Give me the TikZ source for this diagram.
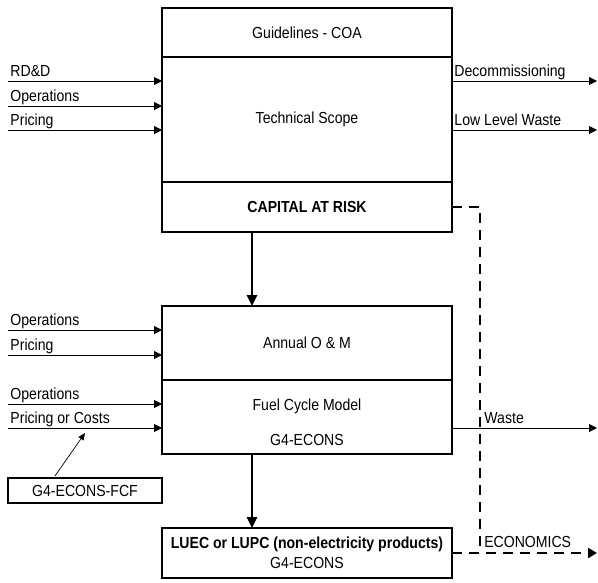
\documentclass[tikz,border=0pt]{standalone}
\usepackage{fontspec}
\setmainfont{Liberation Sans}[FakeStretch=0.88]
\usepackage{tikz}
\usetikzlibrary{arrows.meta, positioning, calc}
\newcommand{\lblfont}{\fontsize{16}{18}\selectfont}
\tikzset{
  box/.style={rectangle, draw=black, line width=1.6pt, minimum width=290pt,
    align=center, inner sep=0pt, outer sep=0pt, font=\lblfont},
  riskbox/.style={box, line width=2.8pt},
  lbl/.style={anchor=base west, xshift=2pt, yshift=4.5pt, font=\lblfont, inner sep=0pt},
  inarrow/.style={-{Triangle[length=8pt,width=8pt]}, line width=0.9pt},
  downarrow/.style={-{Triangle[length=11pt,width=10pt]}, line width=2.6pt},
  dashline/.style={line width=2.6pt, dash pattern=on 10pt off 7pt},
  dasharrow/.style={dashline, -{Triangle[length=9pt,width=10pt]}}
}

\begin{document}
\begin{tikzpicture}[x=1pt, y=-1pt]
  \useasboundingbox (0,0) rectangle (598,582);

  % Coordinates
  \coordinate (rdd) at (8,81);
  \coordinate (ops1) at (8,106);
  \coordinate (price1) at (8,130);
  \coordinate (ops2) at (8,330);
  \coordinate (price2) at (8,355);
  \coordinate (ops3) at (8,404);
  \coordinate (costs) at (8,428);
  \coordinate (decom_end) at (597,81);
  \coordinate (llw_end) at (597,130);
  \coordinate (waste_end) at (597,428);
  \coordinate (econ_end) at (597,553);
  \coordinate (drop) at (252,0);
  \coordinate (bend) at (480,553);
  \coordinate (costs_hit) at (85,433);

  % Capital block
  \node[box, minimum height=49pt] (guide) at (307,32.5) {Guidelines - COA};
  \node[box, minimum height=125pt] (tech) at (307,119.5) {Technical Scope};
  \node[riskbox, minimum height=50pt] (capital) at (307,207) {\bfseries CAPITAL AT RISK};

  % O & M and fuel cycle
  \node[box, minimum height=74pt] (annual) at (307,343) {Annual O \& M};
  \node[box, minimum height=74pt] (fuel) at (307,417) {};
  \node[font=\lblfont, align=center, inner sep=0pt] (fueltxt) at (307,422.5) {Fuel Cycle Model\\[17pt]G4-ECONS};

  % Results
  \node[riskbox, minimum height=50pt] (luec) at (307,553)
    {\bfseries LUEC or LUPC (non-electricity products)\\[2pt]G4-ECONS};
  \node[box, minimum width=154pt, minimum height=25pt] (fcf) at (85,490.5) {G4-ECONS-FCF};

  % Inputs
  \draw[inarrow] (rdd) -- (rdd -| tech.west) node[lbl, pos=0] {RD\&D};
  \draw[inarrow] (ops1) -- (ops1 -| tech.west) node[lbl, pos=0] {Operations};
  \draw[inarrow] (price1) -- (price1 -| tech.west) node[lbl, pos=0] {Pricing};
  \draw[inarrow] (ops2) -- (ops2 -| annual.west) node[lbl, pos=0] {Operations};
  \draw[inarrow] (price2) -- (price2 -| annual.west) node[lbl, pos=0] {Pricing};
  \draw[inarrow] (ops3) -- (ops3 -| fuel.west) node[lbl, pos=0] {Operations};
  \draw[inarrow] (costs) -- (costs -| fuel.west) node[lbl, pos=0] {Pricing or Costs};
  \draw[-{Triangle[length=7pt,width=6pt]}, line width=0.7pt]
    ($(fcf.north west)!0.305!(fcf.north east)+(0,-2)$) -- (costs_hit);

  % Outputs
  \draw[inarrow] (decom_end -| tech.east) -- (decom_end) node[lbl, pos=0] {Decommissioning};
  \draw[inarrow] (llw_end -| tech.east) -- (llw_end) node[lbl, pos=0] {Low Level Waste};
  \draw[inarrow] (waste_end -| fuel.east) -- (waste_end) node[lbl, pos=0, xshift=30pt] {Waste};

  % Flow down
  \draw[downarrow] (capital.south -| drop) -- (annual.north -| drop);
  \draw[downarrow] (fuel.south -| drop) -- (luec.north -| drop);

  % Economics path
  \draw[dashline] (capital.east) -| (bend);
  \draw[dasharrow] (luec.east) -- (econ_end) node[lbl, pos=0, xshift=29pt, yshift=1.5pt] {ECONOMICS};
\end{tikzpicture}
\end{document}
